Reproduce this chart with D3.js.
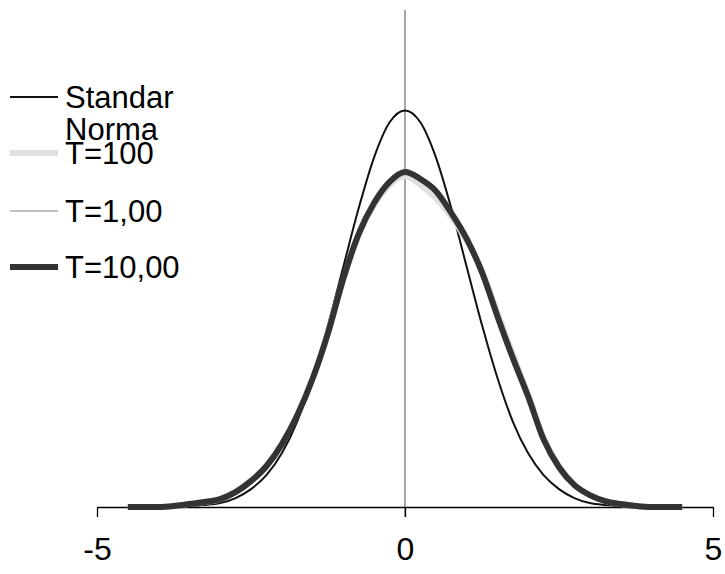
<html>
<head>
<script src="https://d3js.org/d3.v7.min.js"></script>
<style>
body { margin: 0; background: #fff; }
text { font-family: "Liberation Sans", Arial, sans-serif; }
</style>
</head>
<body>
<svg width="725" height="574"></svg>
<script>
// x grid for the standard normal curve
var xNorm = [-4, -3.75, -3.5, -3.25, -3, -2.75, -2.5, -2.25, -2, -1.75, -1.5, -1.25, -1, -0.75, -0.5, -0.25,
             0, 0.25, 0.5, 0.75, 1, 1.25, 1.5, 1.75, 2, 2.25, 2.5, 2.75, 3, 3.25, 3.5, 3.75, 4];
var yNorm = [0.000, 0.000, 0.001, 0.002, 0.004, 0.009, 0.018, 0.032, 0.054, 0.086, 0.130, 0.183, 0.242, 0.301, 0.352, 0.387,
             0.399, 0.387, 0.352, 0.301, 0.242, 0.183, 0.130, 0.086, 0.054, 0.032, 0.018, 0.009, 0.004, 0.002, 0.001, 0.000, 0.000];

// x grid for the simulated T curves
var xT = [-4.5, -4.25, -4, -3.75, -3.5, -3.25, -3, -2.75, -2.5, -2.25, -2, -1.75, -1.5, -1.25, -1, -0.75, -0.5, -0.25,
          0, 0.25, 0.5, 0.75, 1, 1.25, 1.5, 1.75, 2, 2.25, 2.5, 2.75, 3, 3.25, 3.5, 3.75, 4, 4.25, 4.5];
var yT100 = [0, 0, 0, 0.001, 0.003, 0.005, 0.008, 0.016, 0.027, 0.042, 0.064, 0.093, 0.130, 0.176, 0.229, 0.274, 0.304, 0.324,
             0.333, 0.324, 0.311, 0.292, 0.268, 0.238, 0.196, 0.154, 0.113, 0.070, 0.041, 0.023, 0.012, 0.006, 0.003, 0.001, 0, 0, 0];
var yT1 = [0, 0, 0, 0.001, 0.003, 0.005, 0.008, 0.015, 0.026, 0.041, 0.063, 0.092, 0.129, 0.175, 0.230, 0.275, 0.305, 0.326,
           0.335, 0.329, 0.317, 0.295, 0.269, 0.236, 0.193, 0.151, 0.111, 0.069, 0.040, 0.022, 0.012, 0.006, 0.003, 0.001, 0, 0, 0];
var yT10 = [0, 0, 0, 0.001, 0.003, 0.005, 0.008, 0.015, 0.026, 0.041, 0.063, 0.092, 0.129, 0.175, 0.230, 0.275, 0.306, 0.327,
            0.337, 0.330, 0.318, 0.296, 0.270, 0.236, 0.192, 0.150, 0.111, 0.068, 0.040, 0.022, 0.012, 0.006, 0.003, 0.001, 0, 0, 0];

var seriesNames = [["Standar", "Norma"], ["T=100"], ["T=1,00"], ["T=10,00"]];
var xTicks = [-5, 0, 5];

var series = [
  {x: xNorm, y: yNorm, color: "#111", w: 2},
  {x: xT, y: yT100, color: "#e0e0e0", w: 6},
  {x: xT, y: yT1, color: "#c0c0c0", w: 2},
  {x: xT, y: yT10, color: "#333", w: 6}
];

var svg = d3.select("svg");
var x = d3.scaleLinear().domain([-5, 5]).range([97, 713]);
var y = d3.scaleLinear().domain([0, 0.5]).range([507, 10]);

// vertical axis crossing at 0
svg.append("line")
   .attr("x1", x(0)).attr("x2", x(0))
   .attr("y1", y(0.5)).attr("y2", y(0) + 10)
   .attr("stroke", "#777").attr("stroke-width", 1.3);

// horizontal axis
var xAxis = svg.append("g")
   .attr("transform", "translate(0," + y(0) + ")")
   .call(d3.axisBottom(x).tickValues(xTicks).tickSize(10).tickSizeOuter(0).tickPadding(20).tickFormat(d3.format("d")));
xAxis.select(".domain").attr("stroke", "#000").attr("stroke-width", 1.3);
xAxis.selectAll(".tick line").attr("stroke", "#000").attr("stroke-width", 1.3);
xAxis.selectAll(".tick text")
     .attr("fill", "#000")
     .style("font-size", "32px")
     .style("font-family", "'Liberation Sans', Arial, sans-serif")
     .text(function(d) { return d < 0 ? "-" + Math.abs(d) : d; });

var line = d3.line().curve(d3.curveMonotoneX);

svg.append("g").selectAll("path")
   .data(series)
   .enter()
   .append("path")
    .attr("d", function(s) { return line(s.x.map(function(v, i) { return [x(v), y(s.y[i])]; })); })
    .attr("fill", "none")
    .attr("stroke", function(s) { return s.color; })
    .attr("stroke-width", function(s) { return s.w; })
    .attr("stroke-linejoin", "round");

// legend
var legendY = [97, 153, 211, 267];
var legend = svg.append("g");
seriesNames.forEach(function(name, i) {
  legend.append("line")
    .attr("x1", 10).attr("x2", 58)
    .attr("y1", legendY[i]).attr("y2", legendY[i])
    .attr("stroke", series[i].color)
    .attr("stroke-width", series[i].w);
  var t = legend.append("text")
    .attr("x", 65).attr("y", legendY[i] + 11)
    .style("font-size", "31px")
    .attr("fill", "#000");
  name.forEach(function(part, j) {
    t.append("tspan").attr("x", 65).attr("dy", j === 0 ? 0 : 32).text(part);
  });
});
</script>
</body>
</html>
